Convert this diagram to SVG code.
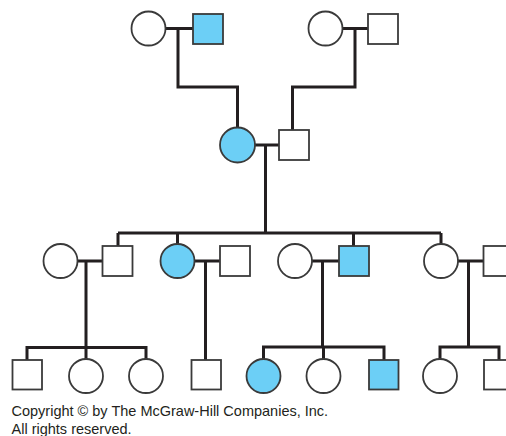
<svg xmlns="http://www.w3.org/2000/svg" width="506" height="436" viewBox="0 0 506 436">
<style>
.n{fill:#ffffff;stroke:#3a3a3a;stroke-width:1.8}
.a{fill:#6ccff6;stroke:#3a3a3a;stroke-width:1.8}
.l{fill:none;stroke:#231f20;stroke-width:3;stroke-linecap:butt;stroke-linejoin:miter}
.t{font-family:"Liberation Sans",Arial,sans-serif;font-size:14.5px;fill:#231f20}
</style>
<rect width="506" height="436" fill="#ffffff"/>
<g id="connectors">
<path class="l" d="M165.5 28.5H193M178 28.5V87H237.5V127.5"/>
<path class="l" d="M342.5 28.5H368M355 28.5V87H292.5V130"/>
<path class="l" d="M255 145H279M265.5 145V233"/>
<path class="l" d="M118 233H441M118 233V246M177.5 233V244M353.5 233V246M441 233V244"/>
<path class="l" d="M77.5 261H102.5M86 261V347.5"/>
<path class="l" d="M194.5 261H220M205.5 261V360"/>
<path class="l" d="M312 261H339M322.5 261V347"/>
<path class="l" d="M458 261H483.5M468.5 261V347"/>
<path class="l" d="M27 360V347.5H146V359M86 347.5V359"/>
<path class="l" d="M263.5 359V347H384V360M323.5 347V359"/>
<path class="l" d="M440 359V347H499V360"/>
</g>
<g id="I1"><circle class="n" cx="148.5" cy="28.5" r="17"/></g>
<g id="I2"><rect class="a" x="193" y="14" width="30" height="30"/></g>
<g id="I3"><circle class="n" cx="325.5" cy="28.5" r="17"/></g>
<g id="I4"><rect class="n" x="368" y="14" width="30" height="30"/></g>
<g id="II1"><circle class="a" cx="237.5" cy="145" r="17.5"/></g>
<g id="II2"><rect class="n" x="279" y="130" width="30" height="30"/></g>
<g id="III1"><circle class="n" cx="60.5" cy="261" r="17"/></g>
<g id="III2"><rect class="n" x="102.5" y="246" width="30" height="30"/></g>
<g id="III3"><circle class="a" cx="177.5" cy="261" r="17"/></g>
<g id="III4"><rect class="n" x="220" y="246" width="30" height="30"/></g>
<g id="III5"><circle class="n" cx="295" cy="261" r="17"/></g>
<g id="III6"><rect class="a" x="339" y="246" width="30" height="30"/></g>
<g id="III7"><circle class="n" cx="441" cy="261" r="17"/></g>
<g id="III8"><rect class="n" x="483.5" y="246" width="30" height="30"/></g>
<g id="IV1"><rect class="n" x="12.5" y="360" width="29.5" height="29.5"/></g>
<g id="IV2"><circle class="n" cx="86" cy="376" r="17"/></g>
<g id="IV3"><circle class="n" cx="146" cy="376" r="17"/></g>
<g id="IV4"><rect class="n" x="191.5" y="360" width="29.5" height="29.5"/></g>
<g id="IV5"><circle class="a" cx="263.5" cy="376" r="17"/></g>
<g id="IV6"><circle class="n" cx="323.5" cy="376" r="17"/></g>
<g id="IV7"><rect class="a" x="369" y="360" width="29.5" height="29.5"/></g>
<g id="IV8"><circle class="n" cx="440" cy="376" r="17"/></g>
<g id="IV9"><rect class="n" x="484" y="360" width="30" height="29.5"/></g>
<g id="caption">
<text class="t" x="11.5" y="415.5">Copyright © by The McGraw-Hill Companies, Inc.</text>
<text class="t" x="11.5" y="434">All rights reserved.</text>
</g>
</svg>
